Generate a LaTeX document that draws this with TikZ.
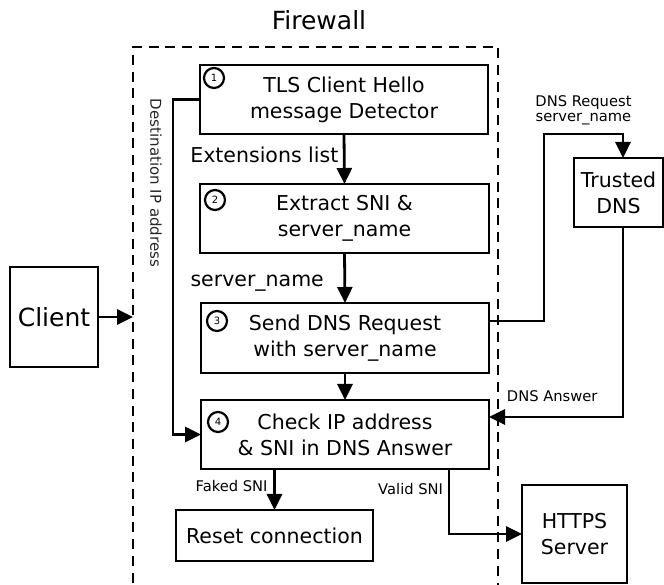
\documentclass[tikz,border=0pt]{standalone}
\usepackage{fontspec}
\setmainfont{DejaVu Sans}
\usetikzlibrary{arrows.meta}
\begin{document}
\begin{tikzpicture}[x=1pt,y=1pt,inner sep=0pt,outer sep=0pt,line width=2.8pt,
>={Triangle[length=16pt,width=15pt]},
stagebox/.style={draw,rectangle,align=center,minimum width=288pt,minimum height=69pt,font=\fontsize{20.5}{26}\selectfont},
hostbox/.style={draw,rectangle,align=center,font=\fontsize{20.5}{26}\selectfont},
fwbox/.style={draw,rectangle,dash pattern=on 10pt off 6.7pt,minimum width=365pt,minimum height=548pt},
numbadge/.style={draw,circle,line width=2.2pt,minimum size=20pt,font=\fontsize{10}{10}\selectfont},
biglbl/.style={font=\fontsize{20.5}{26}\selectfont},
smalllbl/.style={font=\fontsize{14.7}{15}\selectfont}]

\useasboundingbox (0,0) rectangle (664,585);

\draw (315.5,264) node[fwbox] (fw) {};
\draw (319,555) node[anchor=base,font=\fontsize{25}{30}\selectfont] (fwtitle) {Firewall};

\draw (344,485.5) node[stagebox] (tls) {TLS Client Hello\\message Detector};
\draw (344.5,366.5) node[stagebox,minimum width=289pt] (sni) {Extract SNI \&\\server\_name};
\draw (345,247) node[stagebox,minimum height=70pt] (req) {Send DNS Request\\with server\_name};
\draw (345,150.5) node[stagebox] (chk) {Check IP address\\\& SNI in DNS Answer};
\draw (274.5,49.5) node[hostbox,minimum width=197pt,minimum height=51pt] (reset) {Reset connection};

\draw (54,268) node[hostbox,minimum width=88pt,minimum height=100pt,font=\fontsize{25}{30}\selectfont] (client) {Client};
\draw (618.5,392.5) node[hostbox,minimum width=89pt,minimum height=69pt] (dns) {Trusted\\DNS};
\draw (574.5,51) node[hostbox,minimum width=105pt,minimum height=98pt] (https) {HTTPS\\Server};

\draw ([xshift=14pt,yshift=-13pt]tls.north west) node[numbadge] (n1) {1};
\draw ([xshift=15pt,yshift=-16pt]sni.north west) node[numbadge] (n2) {2};
\draw ([xshift=16pt,yshift=-18pt]req.north west) node[numbadge] (n3) {3};
\draw ([xshift=17pt,yshift=-22pt]chk.north west) node[numbadge] (n4) {4};

\draw (156,402) node[rotate=-90,font=\fontsize{15}{18}\selectfont,text=black!85] (dstlbl) {Destination IP address};

\draw[->] (client.east) -- (fw.west |- client.east);
\draw[->] (tls.south) -- node[pos=0.58,anchor=base east,xshift=-6pt,biglbl] {Extensions list} (sni.north);
\draw[->] (sni.south) -- node[pos=0.68,anchor=base east,xshift=-21pt,biglbl] {server\_name} (req.north);
\draw[->] (req.south) -- (chk.north);
\draw[->] (tls.west) -- ++(-27,0) |- (chk.west);
\draw[->] ([yshift=17pt]req.east) -- ++(55,0) -- ++(0,187) -| node[pos=0.25,above=9pt,smalllbl,align=center] {DNS Request\\server\_name} ([xshift=4.5pt]dns.north);
\draw[->] ([xshift=4.5pt]dns.south) |- node[pos=0.933,anchor=base west,yshift=15pt,smalllbl] {DNS Answer} ([yshift=17.5pt]chk.east);
\draw[->] (chk.south -| reset.north) -- node[pos=0.56,anchor=base east,xshift=-7pt,smalllbl] {Faked SNI} (reset.north);
\draw[->] ([xshift=104pt]chk.south) |- node[pos=0.197,anchor=base east,xshift=-6pt,smalllbl] {Valid SNI} (https.west);

\end{tikzpicture}
\end{document}
